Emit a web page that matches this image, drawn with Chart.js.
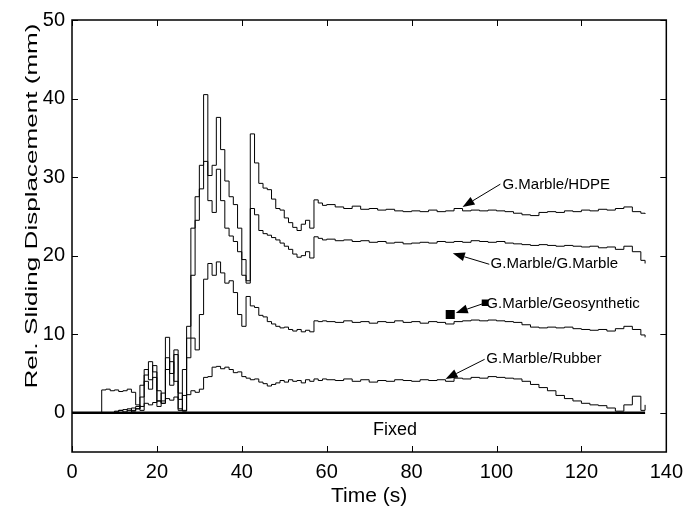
<!DOCTYPE html>
<html>
<head>
<meta charset="utf-8">
<script src="https://cdn.jsdelivr.net/npm/chart.js@4"></script>
<style>
  body { margin: 0; background: #fff; }
  canvas { display: block; }
</style>
</head>
<body>
<canvas id="chart" width="691" height="509"></canvas>
<script>
const time = [
    0, 1, 2, 3, 4, 5, 6, 7, 8, 9, 10, 11, 12, 13, 14, 15, 16, 17, 18, 19, 20,
    21, 22, 23, 24, 25, 26, 27, 28, 29, 30, 31, 32, 33, 34, 35, 36, 37, 38, 39, 40,
    41, 42, 43, 44, 45, 46, 47, 48, 49, 50, 51, 52, 53, 54, 55, 56, 57, 58, 59, 60,
    62, 64, 66, 68, 70, 72, 74, 76, 78, 80,
    82, 84, 86, 88, 90, 92, 94, 96, 98, 100,
    102, 104, 106, 108, 110, 112, 114, 116, 118, 120,
    122, 124, 126, 128, 130, 132, 134, 135
];

const hdpe = [
    0, 0, 0, 0, 0, 0, 0,
    2.9, 3.0, 2.8, 2.9, 2.7, 2.8, 3.0, 2.6, 1.0,
    0.3, 4.8, 6.5, 5.2, 2.8, 1.2, 9.6, 3.5, 7.4, 2.5,
    0.2, 9.5, 23.5, 27.5, 31.5, 40.5, 30.2, 31.5, 37.6, 33.5,
    29.5, 27.5, 26.5, 23.5, 19.5, 16.8, 35.5, 31.8, 29.2, 28.6,
    28.4, 27.2, 26.0, 25.8, 24.8, 24.2, 23.6, 23.2, 24.0, 24.5,
    23.5, 27.1, 26.7, 26.4, 26.5,
    26.2, 26.0, 26.3, 25.9, 26.0, 25.8, 25.9, 25.7, 25.6, 25.7,
    25.6, 25.8, 25.6, 25.7, 26.0, 25.7, 25.8, 25.7, 25.8, 25.7,
    25.6, 25.4, 25.2, 25.1, 25.5, 25.6, 25.5, 25.7, 25.6, 25.8,
    25.7, 25.9, 25.8, 26.0, 26.2, 25.6, 25.4, 25.3
];

const marble = [
    0, 0, 0, 0, 0, 0, 0, 0, 0, 0,
    0.2, 0.3, 0.1, 0.5, 0.2, 0.8,
    3.5, 5.5, 4.2, 6.0, 1.5, 2.5, 7.0, 5.0, 8.0, 0.5,
    0.3, 11.0, 17.5, 24.5, 28.5, 32.0, 27.0, 25.5, 31.0, 27.0,
    23.5, 22.5, 21.8, 20.5, 17.5, 16.5, 26.0, 25.2, 23.2, 22.8,
    22.6, 22.3, 22.0, 21.6, 21.2, 20.8, 20.2, 19.8, 20.0, 20.5,
    19.7, 22.4, 22.2, 22.0, 22.1,
    21.9, 22.0, 21.8, 21.9, 21.7, 21.8, 21.6, 21.7, 21.5, 21.6,
    21.7, 21.6, 21.8, 21.7, 21.8, 21.7, 21.9, 21.8, 21.7, 21.8,
    21.6, 21.5, 21.4, 21.3, 21.4, 21.3, 21.2, 21.3, 21.2, 21.1,
    21.2, 21.0, 21.1, 20.8, 21.2, 20.5, 19.4, 19.0
];

const geosynthetic = [
    0, 0, 0, 0, 0, 0, 0, 0, 0, 0, 0, 0, 0, 0,
    0.3, 0.5,
    2.0, 4.0, 3.0, 4.5, 0.8, 1.5, 5.5, 6.5, 4.0, 0.3,
    5.5, 7.0, 9.5, 8.0, 12.5, 17.0, 19.0, 17.5, 19.2, 17.8,
    16.5, 16.8, 15.3, 12.5, 11.0, 14.8, 13.6, 13.4, 12.4, 12.2,
    11.6, 11.3, 11.0, 10.8, 10.9, 10.6, 10.4, 10.6, 10.3, 10.5,
    10.3, 11.7, 11.6, 11.7, 11.6,
    11.5, 11.7, 11.5, 11.6, 11.4, 11.6, 11.5, 11.7, 11.5, 11.6,
    11.4, 11.6, 11.5, 11.3, 11.6, 11.7, 11.8, 11.7, 11.8, 11.7,
    11.6, 11.5, 11.2, 10.9, 10.8, 10.9, 10.8, 10.9, 10.7, 10.6,
    10.5, 10.6, 10.4, 10.7, 11.0, 10.6, 9.9, 9.6
];

const rubber = [
    0, 0, 0, 0, 0, 0, 0, 0, 0, 0,
    0.1, 0.3, 0.4, 0.3, 0.6, 0.5,
    0.8, 1.2, 1.0, 1.3, 1.5, 1.2, 1.8, 1.6, 2.0, 1.7,
    2.2, 2.3, 2.8, 2.6, 3.0, 4.5, 4.6, 5.8, 5.9, 5.6,
    5.8, 5.5, 5.1, 5.2, 4.6, 4.4, 4.2, 4.3, 3.9, 3.7,
    3.4, 3.6, 3.8, 4.1, 3.9, 4.2, 4.0, 4.1, 3.8, 4.2,
    4.0, 4.3, 4.1, 4.3, 4.2,
    4.1, 4.3, 4.0, 4.2, 3.9, 4.1, 4.0, 4.2, 4.1, 4.0,
    4.2, 4.1, 4.2, 4.0, 4.4, 4.3, 4.5, 4.4, 4.6, 4.5,
    4.4, 4.3, 4.0, 3.6, 3.2, 2.8, 2.2, 1.8, 1.5, 1.2,
    1.0, 0.9, 0.6, 0.2, 1.0, 2.1, 0.3, 1.0
];

const fixedX = [0, 135];
const fixedY = [0, 0];

const markerX = [89.1, 97.3];
const markerY = [12.5, 14.0];

const xTicks = [0, 20, 40, 60, 80, 100, 120, 140];
const yTicks = [0, 10, 20, 30, 40, 50];

const font = "'Liberation Sans', Arial, sans-serif";

// label text, where the text starts, where the arrow starts and where it points
const notes = [
    { text: "G.Marble/HDPE", x: 101.4, y: 29.0, fromX: 100.9, fromY: 29.1, toX: 92.0, toY: 26.2 },
    { text: "G.Marble/G.Marble", x: 98.6, y: 18.9, fromX: 98.3, fromY: 18.9, toX: 89.7, toY: 20.3 },
    { text: "G.Marble/Geosynthetic", x: 97.6, y: 13.9, fromX: 96.9, fromY: 13.9, toX: 90.4, toY: 12.7 },
    { text: "G.Marble/Rubber", x: 97.6, y: 6.8, fromX: 97.2, fromY: 6.8, toX: 88.0, toY: 4.3 }
];

const toPoints = vals => time.map((t, i) => ({ x: t, y: vals[i] }));

function series(vals) {
    return {
        data: toPoints(vals),
        borderColor: "#000",
        borderWidth: 1,
        pointRadius: 0,
        stepped: true,
        fill: false
    };
}

const overlay = {
    id: "overlay",
    afterDatasetsDraw(chart) {
        const { ctx, chartArea: a, scales: { x, y } } = chart;
        ctx.save();
        ctx.strokeStyle = "#000";
        ctx.fillStyle = "#000";

        // box and inward ticks
        ctx.lineWidth = 1.5;
        ctx.strokeRect(a.left, a.top, a.right - a.left, a.bottom - a.top);
        ctx.lineWidth = 1;
        ctx.beginPath();
        xTicks.forEach(v => {
            const px = Math.round(x.getPixelForValue(v)) + 0.5;
            ctx.moveTo(px, a.bottom); ctx.lineTo(px, a.bottom - 6);
            ctx.moveTo(px, a.top); ctx.lineTo(px, a.top + 6);
        });
        yTicks.forEach(v => {
            const py = Math.round(y.getPixelForValue(v)) + 0.5;
            ctx.moveTo(a.left, py); ctx.lineTo(a.left + 6, py);
            ctx.moveTo(a.right, py); ctx.lineTo(a.right - 6, py);
        });
        ctx.stroke();

        // arrows with labels
        ctx.font = "15px " + font;
        ctx.textAlign = "left";
        ctx.textBaseline = "middle";
        notes.forEach(n => {
            const x0 = x.getPixelForValue(n.fromX), y0 = y.getPixelForValue(n.fromY);
            const x1 = x.getPixelForValue(n.toX), y1 = y.getPixelForValue(n.toY);
            const ang = Math.atan2(y1 - y0, x1 - x0);
            const len = 12, half = 4.5;
            ctx.beginPath();
            ctx.moveTo(x0, y0);
            ctx.lineTo(x1 - Math.cos(ang) * len, y1 - Math.sin(ang) * len);
            ctx.stroke();
            ctx.beginPath();
            ctx.moveTo(x1, y1);
            ctx.lineTo(x1 - Math.cos(ang) * len - Math.sin(ang) * half, y1 - Math.sin(ang) * len + Math.cos(ang) * half);
            ctx.lineTo(x1 - Math.cos(ang) * len + Math.sin(ang) * half, y1 - Math.sin(ang) * len - Math.cos(ang) * half);
            ctx.closePath();
            ctx.fill();
            ctx.fillText(n.text, x.getPixelForValue(n.x), y.getPixelForValue(n.y));
        });

        ctx.font = "18px " + font;
        ctx.textAlign = "center";
        ctx.fillText("Fixed", x.getPixelForValue(76.1), y.getPixelForValue(-2.2));

        // y axis title, stretched along its length like the original
        const title = "Rel. Sliding Displacement (mm)";
        ctx.font = "17px " + font;
        const w = ctx.measureText(title).width;
        ctx.translate(37, 206);
        ctx.rotate(-Math.PI / 2);
        ctx.scale(365 / w, 1);
        ctx.textAlign = "center";
        ctx.textBaseline = "alphabetic";
        ctx.fillText(title, 0, 0);
        ctx.restore();
    }
};

new Chart(document.getElementById("chart"), {
    type: "line",
    data: {
        datasets: [
            series(hdpe),
            series(marble),
            series(geosynthetic),
            series(rubber),
            {
                data: fixedX.map((v, i) => ({ x: v, y: fixedY[i] })),
                borderColor: "#000",
                borderWidth: 2.5,
                pointRadius: 0
            },
            {
                type: "scatter",
                data: markerX.map((v, i) => ({ x: v, y: markerY[i] })),
                pointStyle: "rect",
                pointRadius: [6.4, 4.7],
                backgroundColor: "#000",
                borderColor: "#000",
                borderWidth: 0
            }
        ]
    },
    options: {
        responsive: false,
        animation: false,
        devicePixelRatio: 1,
        layout: { padding: { top: 20, right: 21, left: 0, bottom: 0 } },
        plugins: { legend: { display: false }, tooltip: { enabled: false } },
        scales: {
            x: {
                type: "linear",
                min: 0,
                max: 140,
                afterBuildTicks: s => { s.ticks = xTicks.map(v => ({ value: v })); },
                afterFit: s => { s.height = 57; },
                grid: { display: false, drawTicks: false },
                border: { display: false },
                ticks: { color: "#000", font: { size: 20, family: font }, padding: 8, maxRotation: 0, autoSkip: false },
                title: { display: true, text: "Time (s)", color: "#000", font: { size: 21, family: font }, padding: 0 }
            },
            y: {
                min: -5,
                max: 50,
                afterBuildTicks: s => { s.ticks = yTicks.map(v => ({ value: v })); },
                afterFit: s => { s.width = 72; },
                grid: { display: false, drawTicks: false },
                border: { display: false },
                ticks: { color: "#000", font: { size: 20, family: font }, padding: 7, autoSkip: false },
                title: { display: false }
            }
        }
    },
    plugins: [overlay]
});
</script>
</body>
</html>
